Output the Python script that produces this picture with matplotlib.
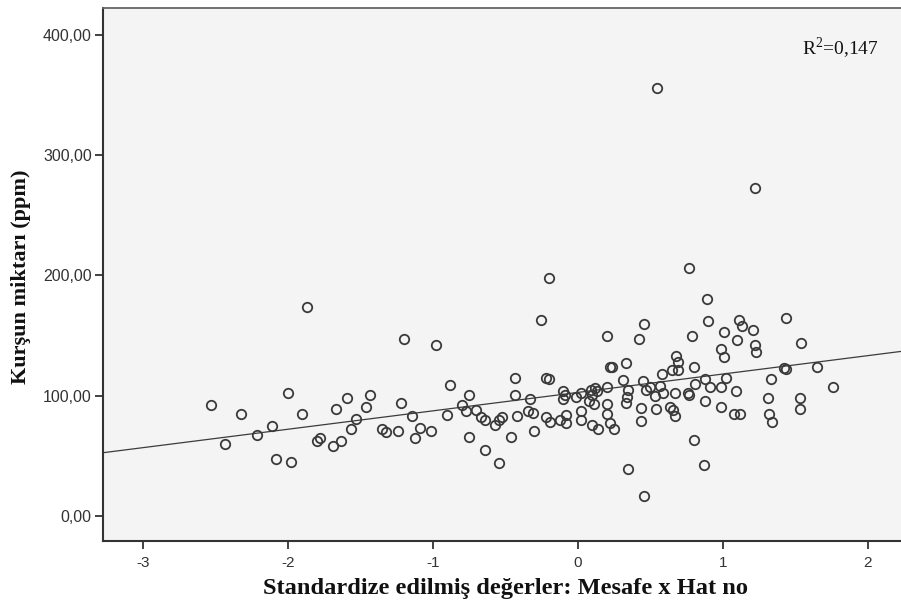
import numpy as np
import matplotlib.pyplot as plt

plt.rcParams["axes.unicode_minus"] = False
plt.rcParams["mathtext.fontset"] = "custom"
plt.rcParams["mathtext.rm"] = "Liberation Serif"

# standardized predicted values (x) and lead amount in ppm (y)
z_vals = [
    -2.53, -2.43, -2.32, -2.21, -2.11, -2.08, -2.00, -1.98, -1.90, -1.87,
    -1.80, -1.78, -1.69, -1.67, -1.63, -1.59, -1.56, -1.53, -1.46, -1.43,
    -1.35, -1.32, -1.24, -1.22, -1.20, -1.14, -1.12, -1.09, -1.01, -0.98,
    -0.90, -0.88, -0.80, -0.77, -0.75, -0.75, -0.70, -0.67, -0.64, -0.64,
    -0.57, -0.54, -0.52, -0.54, -0.46, -0.43, -0.43, -0.42, -0.33, -0.34,
    -0.31, -0.30, -0.25, -0.22, -0.20, -0.20, -0.22, -0.19, -0.10, -0.09,
    -0.10, -0.12, -0.08, -0.08, -0.01, 0.02, 0.02, 0.02, 0.08, 0.10,
    0.09, 0.10, 0.11, 0.12, 0.13, 0.14, 0.20, 0.20, 0.20, 0.22,
    0.20, 0.22, 0.24, 0.25, 0.31, 0.33, 0.35, 0.34, 0.33, 0.35,
    0.42, 0.44, 0.44, 0.45, 0.46, 0.46, 0.47, 0.50, 0.53, 0.54,
    0.55, 0.57, 0.58, 0.59, 0.64, 0.65, 0.66, 0.67, 0.67, 0.68,
    0.69, 0.69, 0.76, 0.77, 0.77, 0.79, 0.80, 0.80, 0.81, 0.87,
    0.88, 0.88, 0.89, 0.90, 0.91, 0.99, 1.01, 1.01, 0.99, 0.99,
    1.02, 1.08, 1.09, 1.10, 1.11, 1.12, 1.13, 1.21, 1.22, 1.22,
    1.23, 1.31, 1.32, 1.33, 1.34, 1.42, 1.44, 1.44, 1.53, 1.53,
    1.54, 1.65, 1.76,
]
lead_ppm = [
    92, 60, 85, 67, 75, 47, 102, 45, 85, 174,
    62, 65, 58, 89, 62, 98, 72, 81, 91, 101,
    72, 70, 71, 94, 147, 83, 65, 73, 71, 142,
    84, 109, 92, 87, 101, 66, 88, 82, 80, 55,
    76, 80, 82, 44, 66, 115, 101, 83, 97, 87,
    86, 71, 163, 115, 114, 198, 82, 78, 104, 101,
    97, 80, 84, 77, 99, 102, 87, 80, 96, 101,
    105, 76, 93, 106, 104, 72, 107, 93, 85, 77,
    150, 124, 124, 72, 113, 127, 105, 99, 94, 39,
    147, 90, 79, 112, 160, 17, 105, 107, 100, 89,
    356, 108, 118, 102, 91, 121, 88, 83, 102, 133,
    128, 121, 102, 101, 206, 150, 124, 63, 110, 42,
    114, 96, 180, 162, 107, 139, 132, 153, 107, 91,
    115, 85, 104, 146, 163, 85, 158, 155, 142, 273,
    136, 98, 85, 114, 78, 123, 122, 165, 98, 89,
    144, 124, 107,
]

# fit line as printed on the chart
fit_intercept = 102.7
fit_slope = 15.3
r2_text = r"R$^{2}$=0,147"

x_ticks = [-3, -2, -1, 0, 1, 2]
y_ticks = [0, 100, 200, 300, 400]

fig = plt.figure(figsize=(9.01, 6.06), dpi=100)
ax = fig.add_axes([0.1143, 0.1078, 0.8857, 0.879])
ax.set_facecolor("#f4f4f4")

ax.plot(z_vals, lead_ppm, "o", markersize=6.8, markerfacecolor="none",
        markeredgecolor="#3a3a3a", markeredgewidth=1.3, zorder=3)

xlim = (-3.274, 2.23)
xs = np.array(xlim)
ax.plot(xs, fit_intercept + fit_slope * xs, "-", color="#3c3c3c", linewidth=0.9, zorder=2)

ax.set_xlim(xlim)
ax.set_ylim(-20.5, 422.3)

ax.set_xticks(x_ticks)
ax.set_xticklabels([str(t) for t in x_ticks])
ax.set_yticks(y_ticks)
ax.set_yticklabels(["{:.2f}".format(t).replace(".", ",") for t in y_ticks])
ax.tick_params(axis="both", direction="out", length=6, width=1.3, color="#333333",
               labelcolor="#333333")
ax.tick_params(axis="y", pad=2, labelsize=11.5)
ax.tick_params(axis="x", pad=5, labelsize=11)
for lab in ax.get_xticklabels() + ax.get_yticklabels():
    lab.set_family("Liberation Sans")

for side in ["left", "bottom"]:
    ax.spines[side].set_color("#333333")
    ax.spines[side].set_linewidth(1.5)
ax.spines["top"].set_color("#666666")
ax.spines["top"].set_linewidth(1.3)
ax.spines["right"].set_visible(False)

ax.set_xlabel("Standardize edilmiş değerler: Mesafe x Hat no", family="Liberation Serif",
              fontweight="bold", fontsize=17.6, color="#111111")
ax.xaxis.set_label_coords(0.504, -0.07)
ax.set_ylabel("Kurşun miktarı (ppm)", family="Liberation Serif",
              fontweight="bold", fontsize=16, color="#111111")
ax.yaxis.set_label_coords(-0.09, 0.496)

ax.text(0.876, 0.925, r2_text, transform=ax.transAxes, family="Liberation Serif",
        fontsize=14, color="#111111", ha="left", va="center")

fig.savefig("out.png", dpi=100)
